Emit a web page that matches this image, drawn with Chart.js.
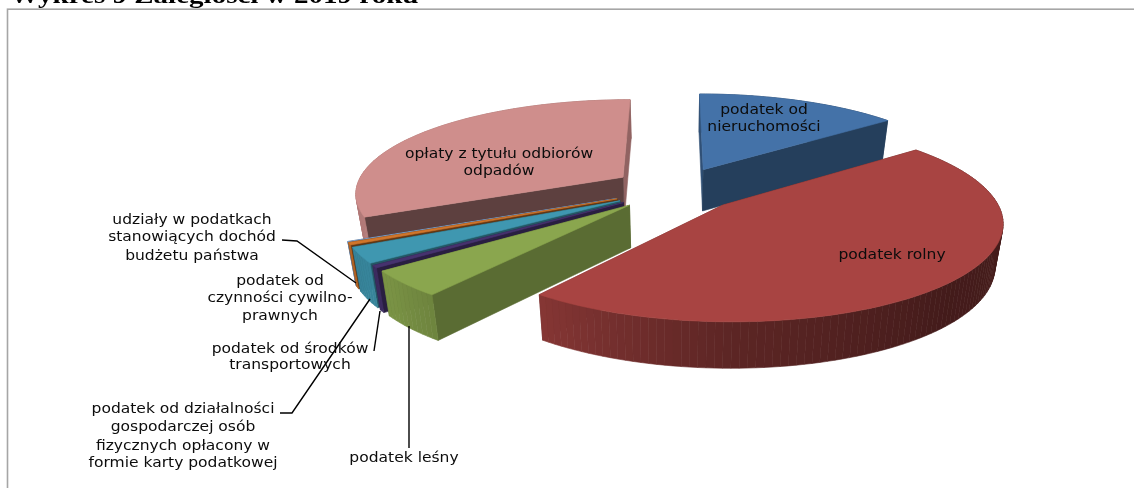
<!DOCTYPE html>
<html><head><meta charset="utf-8">
<style>html,body{margin:0;padding:0;background:#fff;overflow:hidden}
#wrap{position:absolute;left:0;top:0;width:1134px;height:488px}
canvas{filter:blur(.35px)}</style>
<script src="https://cdn.jsdelivr.net/npm/chart.js@4"></script></head>
<body><div id="wrap"><canvas id="c" width="1134" height="488"></canvas></div>
<script>
const categories=["podatek od nieruchomości","podatek rolny","podatek leśny","podatek od środków transportowych","podatek od działalności gospodarczej osób fizycznych opłacony w formie karty podatkowej","podatek od czynności cywilno-prawnych","udziały w podatkach stanowiących dochód budżetu państwa","opłaty z tytułu odbiorów odpadów"];
const shares=[14.4,45.8,4.3,0.4,2.6,0.4,0.1,31.8];
const colors=["#4472A8","#A84442","#8AA64E","#46326E","#3F97B0","#D0752B","#7FA6D6","#CF8E8C"];
const title="Wykres 9 Zaległości w 2019 roku";
const labelBlocks=[
 {lines:["podatek od","nieruchomości"],x:764,y:[110,127]},
 {lines:["podatek rolny"],x:892,y:[255]},
 {lines:["podatek leśny"],x:404,y:[458]},
 {lines:["podatek od środków","transportowych"],x:290,y:[349,365]},
 {lines:["podatek od działalności","gospodarczej osób","fizycznych opłacony w","formie karty podatkowej"],x:183,y:[409,427,446,463]},
 {lines:["podatek od","czynności cywilno-","prawnych"],x:280,y:[281,298,316]},
 {lines:["udziały w podatkach","stanowiących dochód","budżetu państwa"],x:192,y:[220,237,256]},
 {lines:["opłaty z tytułu odbiorów","odpadów"],x:499,y:[154,171]}
];
const leaders=[
 [[282,240],[297,241],[356,283]],
 [[280,413],[292,413],[370,299]],
 [[374,351],[380,311]],
 [[409,448],[409,326]]
];
const CX=676,CY=189,AX=268,BY=93,K=0.156,DEPTH=42,BOTTOM_SHRINK=.975;
function proj(u,v,z){const w=1-K*v;const x=AX*u/w;return [CX+(z?x*BOTTOM_SHRINK:x),CY+BY*v/w+(z?DEPTH/Math.sqrt(w):0)];}
function shadeHex(hex,f){const n=parseInt(hex.slice(1),16);
 return `rgb(${Math.round((n>>16&255)*f)},${Math.round((n>>8&255)*f)},${Math.round((n&255)*f)})`;}
function interp(tb,deg){deg=((deg%360)+360)%360;for(let i=1;i<tb.length;i++){if(deg<=tb[i][0]){const a=tb[i-1],b=tb[i];return a[1]+(b[1]-a[1])*(deg-a[0])/(b[0]-a[0]);}}return tb[tb.length-1][1];}
const SH=[[0,.6],[90,.42],[135,.4],[180,.55],[212,.76],[230,.88],[250,.86],[300,.8],[360,.7]];
const CUT=[[0,.7],[52,.55],[217,.65],[232,.6],[245,.45],[359,.75],[360,.75]];
function poly(ctx,pts,fill){ctx.beginPath();pts.forEach((p,i)=>i?ctx.lineTo(p[0],p[1]):ctx.moveTo(p[0],p[1]));ctx.closePath();ctx.fillStyle=fill;ctx.strokeStyle=fill;ctx.lineWidth=.6;ctx.fill();ctx.stroke();}
const toDeg=a=>(a+Math.PI/2)*180/Math.PI;
function drawSlice(ctx,el,color){
 const R=el.outerRadius,s=el.startAngle,e=el.endAngle,m=(s+e)/2,off=(el.options.offset/4)/R;
 const ou=Math.cos(m)*off,ov=Math.sin(m)*off;
 const arc=[];const n=Math.max(2,Math.ceil((e-s)/(Math.PI/120)));
 for(let i=0;i<=n;i++){const a=s+(e-s)*i/n;arc.push({a,u:ou+Math.cos(a),v:ov+Math.sin(a)});}
 const A=(z)=>proj(ou,ov,z);
 const walls=[];
 const first=arc[0],last=arc[arc.length-1];
 walls.push({y:(ov+first.v)/2,pts:[A(0),proj(first.u,first.v,0),proj(first.u,first.v,1),A(1)],fill:shadeHex(color,interp(CUT,toDeg(first.a)))});
 walls.push({y:(ov+last.v)/2,pts:[A(0),proj(last.u,last.v,0),proj(last.u,last.v,1),A(1)],fill:shadeHex(color,interp(CUT,toDeg(last.a)))});
 for(let i=0;i<n;i++){const p=arc[i],q=arc[i+1];const deg=toDeg((p.a+q.a)/2);
  walls.push({y:(p.v+q.v)/2,pts:[proj(p.u,p.v,0),proj(q.u,q.v,0),proj(q.u,q.v,1),proj(p.u,p.v,1)],fill:shadeHex(color,interp(SH,deg))});}
 walls.sort((a,b)=>a.y-b.y).forEach(w=>poly(ctx,w.pts,w.fill));
 poly(ctx,[A(0),...arc.map(p=>proj(p.u,p.v,0))],color);
}
const TEXT_STRETCH=1.15;
const pie3d={id:'pie3d',
 beforeDatasetDraw(chart,args){
  const ctx=chart.ctx,els=args.meta.data;
  const order=[7,6,5,4,3,2,0,1];
  ctx.save();
  order.forEach(i=>drawSlice(ctx,els[i],colors[i]));
  ctx.restore();
  return false;
 },
 afterDatasetsDraw(chart){
  const ctx=chart.ctx;ctx.save();
  ctx.strokeStyle='#000';ctx.lineWidth=1.4;
  leaders.forEach(l=>{ctx.beginPath();l.forEach((p,i)=>i?ctx.lineTo(p[0],p[1]):ctx.moveTo(p[0],p[1]));ctx.stroke();});
  ctx.fillStyle='#0c0c0c';ctx.textAlign='center';ctx.textBaseline='middle';ctx.font='13.5px "DejaVu Sans"';
  labelBlocks.forEach(b=>b.lines.forEach((t,i)=>{ctx.save();ctx.translate(b.x,b.y[i]);ctx.scale(TEXT_STRETCH,1);ctx.fillText(t,0,0);ctx.restore();}));
  ctx.restore();
 },
 beforeDraw(chart){
  const ctx=chart.ctx;ctx.save();
  ctx.fillStyle='#fff';ctx.fillRect(0,0,1134,488);
  ctx.strokeStyle='#a6a6a6';ctx.lineWidth=1.6;ctx.strokeRect(7.5,9.2,1140,500);
  ctx.fillStyle='#000';ctx.font='bold 24px "Liberation Serif"';ctx.textBaseline='alphabetic';ctx.textAlign='left';
  ctx.save();ctx.translate(10,2.5);ctx.scale(1.21,1);ctx.fillText(title,0,0);ctx.restore();
  ctx.restore();
 }};
new Chart(document.getElementById('c'),{
 type:'pie',
 data:{labels:categories,datasets:[{data:shares,backgroundColor:colors,borderWidth:0,offset:158,hoverOffset:158}]},
 options:{responsive:false,animation:false,rotation:0,plugins:{legend:{display:false},tooltip:{enabled:false},title:{display:false}},events:[]},
 plugins:[pie3d]
});
</script></body></html>
